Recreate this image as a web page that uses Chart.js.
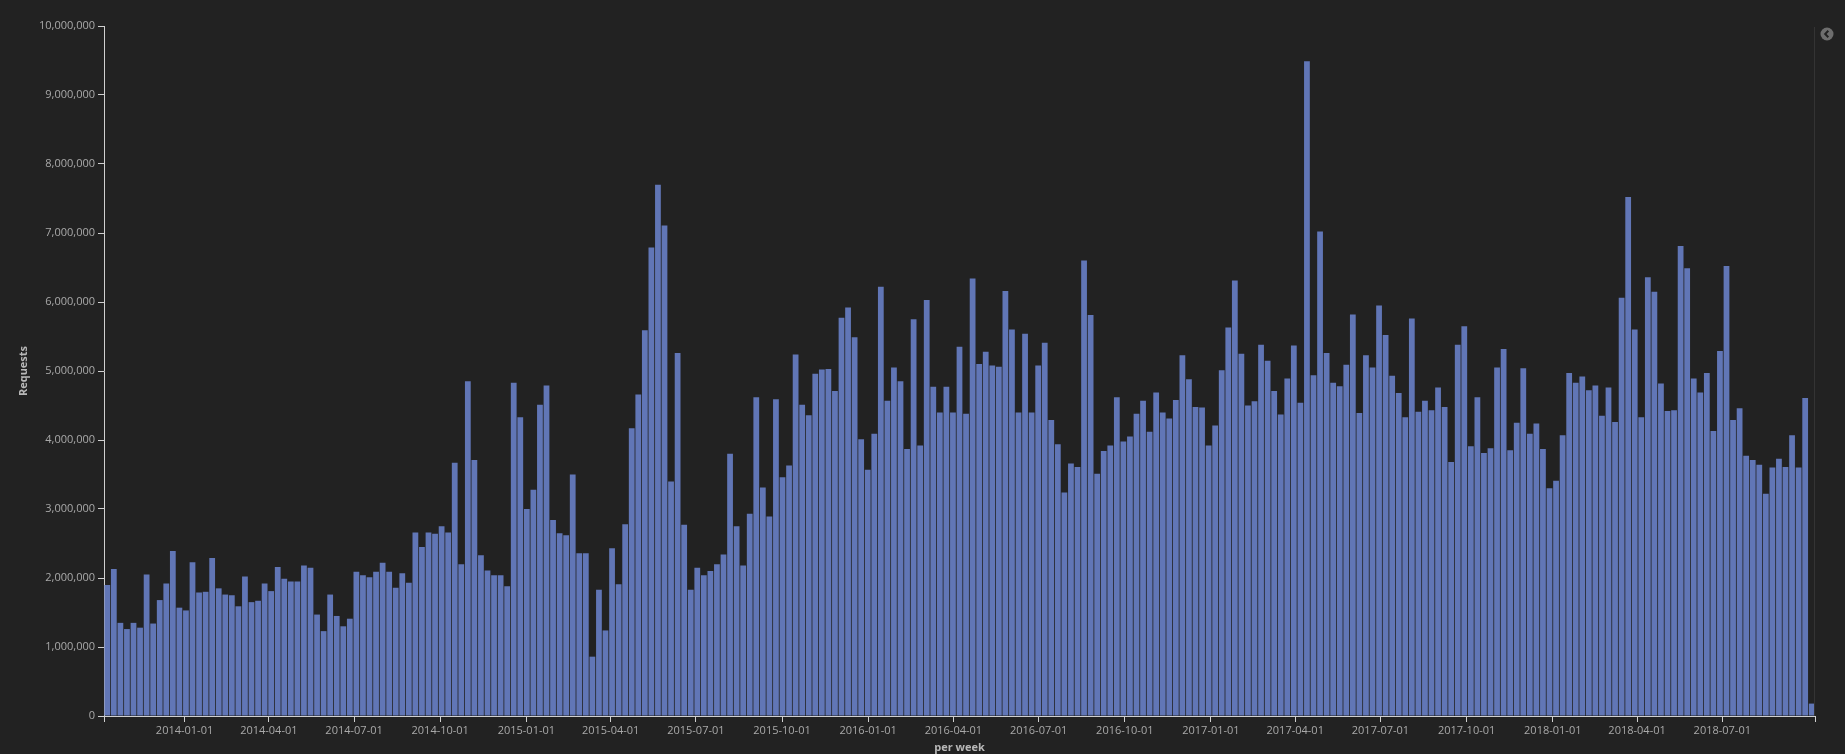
<!DOCTYPE html>
<html>
<head>
<meta charset="utf-8">
<script src="https://cdn.jsdelivr.net/npm/chart.js@4.4.1/dist/chart.umd.min.js"></script>
<style>
  html, body { margin: 0; padding: 0; background: #222222; }
  #wrap { position: relative; width: 1845px; height: 754px; overflow: hidden; }
  #legendEdge { position: absolute; left: 1814px; top: 27px; width: 1px; height: 689px; background: #343434; }
  #legendToggle { position: absolute; left: 1820px; top: 27px; }
</style>
</head>
<body>
<div id="wrap">
  <canvas id="myChart" width="1845" height="754"></canvas>
  <div id="legendEdge"></div>
  <svg id="legendToggle" width="14" height="14" viewBox="0 0 14 14">
    <circle cx="7" cy="7" r="6.5" fill="#6e6e6e"></circle>
    <polyline points="8.3,3.8 5.2,7 8.3,10.2" fill="none" stroke="#222" stroke-width="2"></polyline>
  </svg>
</div>
<script>
// weekly buckets, first one starts on this monday
const firstWeek = '2013-10-07';

// requests per week
const requests = [
    1900000, 2130000, 1350000, 1260000, 1350000, 1280000, 2050000, 1340000, 1680000, 1920000,
    2390000, 1570000, 1530000, 2230000, 1790000, 1800000, 2290000, 1850000, 1760000, 1750000,
    1590000, 2020000, 1650000, 1670000, 1920000, 1810000, 2160000, 1990000, 1950000, 1950000,
    2180000, 2150000, 1470000, 1230000, 1760000, 1450000, 1300000, 1410000, 2090000, 2040000,
    2010000, 2090000, 2220000, 2090000, 1860000, 2070000, 1930000, 2660000, 2450000, 2660000,
    2640000, 2750000, 2660000, 3670000, 2200000, 4850000, 3710000, 2330000, 2110000, 2040000,
    2040000, 1880000, 4830000, 4330000, 3000000, 3280000, 4510000, 4790000, 2840000, 2650000,
    2620000, 3500000, 2360000, 2360000, 860000, 1830000, 1240000, 2430000, 1910000, 2780000,
    4170000, 4660000, 5590000, 6790000, 7700000, 7110000, 3400000, 5260000, 2770000, 1830000,
    2150000, 2040000, 2100000, 2200000, 2340000, 3800000, 2750000, 2180000, 2930000, 4620000,
    3310000, 2890000, 4590000, 3460000, 3630000, 5240000, 4510000, 4360000, 4960000, 5020000,
    5030000, 4710000, 5770000, 5920000, 5490000, 4010000, 3570000, 4090000, 6220000, 4570000,
    5050000, 4850000, 3870000, 5750000, 3920000, 6030000, 4770000, 4400000, 4770000, 4400000,
    5350000, 4380000, 6340000, 5100000, 5280000, 5080000, 5060000, 6160000, 5600000, 4400000,
    5540000, 4400000, 5080000, 5410000, 4290000, 3940000, 3240000, 3660000, 3610000, 6600000,
    5810000, 3510000, 3840000, 3920000, 4620000, 3980000, 4050000, 4380000, 4570000, 4120000,
    4690000, 4400000, 4310000, 4580000, 5230000, 4880000, 4480000, 4470000, 3920000, 4210000,
    5010000, 5630000, 6310000, 5250000, 4500000, 4560000, 5380000, 5150000, 4710000, 4370000,
    4890000, 5370000, 4540000, 9490000, 4940000, 7020000, 5260000, 4830000, 4780000, 5090000,
    5820000, 4390000, 5230000, 5050000, 5950000, 5520000, 4930000, 4680000, 4330000, 5760000,
    4410000, 4570000, 4430000, 4760000, 4480000, 3680000, 5380000, 5650000, 3910000, 4620000,
    3810000, 3880000, 5050000, 5320000, 3850000, 4250000, 5040000, 4090000, 4240000, 3870000,
    3300000, 3410000, 4070000, 4970000, 4830000, 4920000, 4720000, 4790000, 4350000, 4760000,
    4260000, 6060000, 7520000, 5600000, 4330000, 6360000, 6150000, 4820000, 4420000, 4430000,
    6810000, 6490000, 4890000, 4690000, 4970000, 4130000, 5290000, 6520000, 4290000, 4460000,
    3770000, 3710000, 3640000, 3220000, 3600000, 3730000, 3610000, 4070000, 3600000, 4610000,
    180000
];

const quarterTicks = [
    '2014-01-01', '2014-04-01', '2014-07-01', '2014-10-01',
    '2015-01-01', '2015-04-01', '2015-07-01', '2015-10-01',
    '2016-01-01', '2016-04-01', '2016-07-01', '2016-10-01',
    '2017-01-01', '2017-04-01', '2017-07-01', '2017-10-01',
    '2018-01-01', '2018-04-01', '2018-07-01'
];

const yTicks = [0, 1000000, 2000000, 3000000, 4000000, 5000000,
    6000000, 7000000, 8000000, 9000000, 10000000];

const DAY = 86400000;
function dayOffset(s) {
    return Math.round((Date.parse(s) - Date.parse(firstWeek)) / DAY);
}

// x is days since firstWeek, each bar sits in the middle of its week
const points = requests.map((v, i) => ({ x: i * 7 + 3.5, y: v }));
const xEnd = requests.length * 7;

const tickLabel = {};
quarterTicks.forEach(d => { tickLabel[dayOffset(d)] = d; });

const axisColor = '#d0d0d0';
const labelColor = '#a9a9a9';
const font = 'Open Sans';

const config = {
    type: 'bar',
    data: {
        datasets: [{
            label: 'Requests',
            data: points,
            backgroundColor: '#6176b6',
            borderWidth: 0,
            barPercentage: 0.88,
            categoryPercentage: 1
        }]
    },
    options: {
        responsive: false,
        animation: false,
        devicePixelRatio: 1,
        layout: {
            padding: { top: 26, right: 30, bottom: 0, left: 0 }
        },
        plugins: {
            legend: { display: false },
            tooltip: { enabled: false }
        },
        scales: {
            x: {
                type: 'linear',
                min: 0,
                max: xEnd,
                offset: false,
                grid: { drawOnChartArea: false, offset: false, tickLength: 6, color: axisColor },
                border: { color: axisColor },
                ticks: {
                    color: labelColor,
                    font: { family: font, size: 11 },
                    maxRotation: 0,
                    autoSkip: false,
                    padding: 2,
                    callback: v => tickLabel[v] || ''
                },
                afterBuildTicks: s => {
                    s.ticks = [{ value: 0 }]
                        .concat(quarterTicks.map(d => ({ value: dayOffset(d) })))
                        .concat([{ value: xEnd }]);
                },
                afterFit: s => { s.height = 38; },
                title: {
                    display: true,
                    text: 'per week',
                    color: '#b8b8b8',
                    font: { family: font, size: 11, weight: 'bold' },
                    padding: 0
                }
            },
            y: {
                min: 0,
                max: 10000000,
                grid: { drawOnChartArea: false, tickLength: 6, color: axisColor },
                border: { color: axisColor },
                ticks: {
                    color: labelColor,
                    font: { family: font, size: 11 },
                    padding: 3,
                    callback: v => v.toLocaleString('en-US')
                },
                afterBuildTicks: s => {
                    s.ticks = yTicks.map(v => ({ value: v }));
                },
                afterFit: s => { s.width = 104; },
                title: {
                    display: true,
                    text: 'Requests',
                    color: '#b8b8b8',
                    font: { family: font, size: 11, weight: 'bold' },
                    padding: { top: 17, bottom: 0 }
                }
            }
        }
    }
};

var myChart = new Chart(
    document.getElementById('myChart'),
    config
);
</script>
</body>
</html>
